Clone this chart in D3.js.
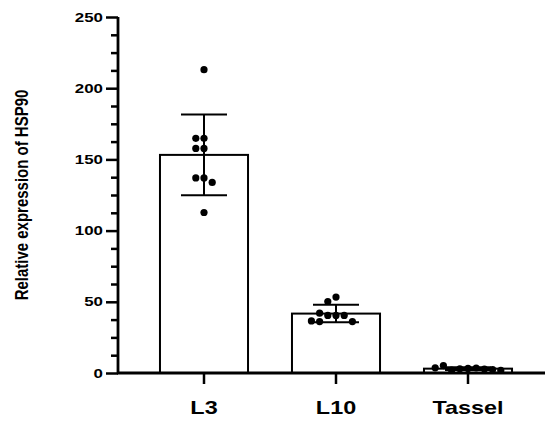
<!DOCTYPE html>
<html>
<head>
<meta charset="utf-8">
<script src="https://cdn.jsdelivr.net/npm/d3@7"></script>
<style>
  body { margin: 0; background: #fff; }
  text { font-family: "Liberation Sans", Arial, sans-serif; font-weight: bold; }
</style>
</head>
<body>
<div id="chart"></div>
<script>
const categories = ["L3", "L10", "Tassel"];
const L3 = [213, 164.8, 164.8, 157.7, 157.7, 137, 137, 133.8, 112.7];
const L10 = [53.3, 50.2, 40.4, 40.4, 40.4, 42, 36.1, 36.1, 36.6];
const Tassel = [3.2, 3.0, 3.5, 2.0, 2.8, 5.2, 2.4, 3.6, 1.8];
const yTicks = [0, 50, 100, 150, 200, 250];
const groups = [L3, L10, Tassel];

const W = 547, H = 423;
const sx = 1.3; // picture is wider than tall, text is stretched sideways
const svg = d3.select("#chart").append("svg")
  .attr("width", W).attr("height", H);

const y = d3.scaleLinear().domain([0, 250]).range([373, 17]);
const x = d3.scaleBand().domain(categories).range([138, 534]).paddingInner(0.333).paddingOuter(0.1665);

// bars
groups.forEach(function(vals, i) {
  const m = d3.mean(vals);
  svg.append("rect")
    .attr("x", x(categories[i]))
    .attr("y", y(m))
    .attr("width", x.bandwidth())
    .attr("height", y(0) - y(m))
    .attr("fill", "#fff")
    .attr("stroke", "#000")
    .attr("stroke-width", 2);
});

// points: simple swarm so dots don't overlap
const r = 3.6;
groups.forEach(function(vals, i) {
  const cx = x(categories[i]) + x.bandwidth() / 2;
  const placed = [];
  vals.forEach(function(v) {
    const py = y(v);
    let k = 0, px = cx;
    while (true) {
      const off = (k === 0) ? 0 : Math.ceil(k / 2) * (k % 2 ? -1 : 1) * (2 * r + 1);
      px = cx + off;
      const hit = placed.some(p => Math.hypot(p[0] - px, p[1] - py) < 2 * r + 0.5);
      if (!hit) break;
      k++;
    }
    placed.push([px, py]);
  });
  svg.selectAll(null).data(placed).enter().append("circle")
    .attr("cx", d => d[0]).attr("cy", d => d[1])
    .attr("r", r).attr("fill", "#000");
});

// error bars (mean +/- SD)
groups.forEach(function(vals, i) {
  const m = d3.mean(vals);
  const sd = d3.deviation(vals);
  const cx = x(categories[i]) + x.bandwidth() / 2;
  const g = svg.append("g").attr("stroke", "#000").attr("stroke-width", 2);
  g.append("line").attr("x1", cx).attr("x2", cx).attr("y1", y(m - sd)).attr("y2", y(m + sd));
  [m - sd, m + sd].forEach(function(e) {
    g.append("line").attr("x1", cx - 23).attr("x2", cx + 23).attr("y1", y(e)).attr("y2", y(e));
  });
});

// y axis
const yAxis = svg.append("g").attr("transform", "translate(118,0)")
  .call(d3.axisLeft(y).tickValues(yTicks).tickSize(12).tickPadding(3));
svg.append("g").attr("transform", "translate(118,0)")
  .call(d3.axisLeft(y).tickValues(d3.range(0, 250.1, 12.5).filter(v => v % 50 !== 0)).tickSize(7).tickFormat(""))
  .call(g => g.select(".domain").remove())
  .selectAll("line").attr("stroke-width", 2.5);
yAxis.select(".domain").attr("stroke-width", 2.8).attr("d", "M0," + y(0) + "V" + y(250));
yAxis.selectAll("line").attr("stroke-width", 2.5);
yAxis.selectAll("text").attr("font-size", 13).attr("fill", "#000")
  .attr("x", -15 / sx).attr("transform", "scale(" + sx + ",1)");

// x axis
const xAxis = svg.append("g").attr("transform", "translate(0,373)")
  .call(d3.axisBottom(x).tickSize(11).tickPadding(17));
xAxis.select(".domain").attr("stroke-width", 2.8).attr("d", "M117,0H545");
xAxis.selectAll("line").attr("stroke-width", 2.5);
xAxis.selectAll("text").attr("font-size", 18).attr("fill", "#000")
  .attr("transform", "scale(" + sx + ",1)");

svg.append("text")
  .attr("transform", "translate(28,195) rotate(-90) scale(1,1.2)")
  .attr("text-anchor", "middle")
  .attr("font-size", 15)
  .text("Relative expression of HSP90");
</script>
</body>
</html>
